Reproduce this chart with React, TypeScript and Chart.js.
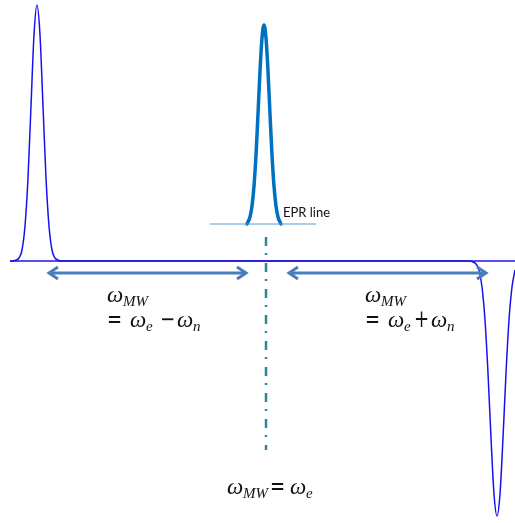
import React, { useEffect, useRef } from "react";
import { Chart, registerables } from "chart.js";

Chart.register(...registerables);

// Axis ranges (frequency axis and signal intensity, arbitrary units)
const X_MIN = 0;
const X_MAX = 515;
const Y_MIN = -262;
const Y_MAX = 261;

// ENDOR-type spectrum: positive line at ωe − ωn side, negative line at ωe + ωn side
const spectrumX = [10, 13, 16, 19, 22, 25, 28, 31, 34, 37, 40, 43, 46, 49, 52, 55, 58, 61,
  470, 473, 476, 479, 482, 485, 488, 491, 494, 497, 500, 503, 506, 509, 512, 515];
const spectrumY = [0, 0, 1, 3, 11, 35, 83, 155, 226, 256, 226, 155, 83, 35, 11, 3, 1, 0,
  0, -1, -3, -9, -26, -59, -112, -177, -233, -255, -233, -177, -112, -59, -26, -9];

// Zero line of the spectrum
const baselineX = [10, 515];
const baselineY = [0, 0];

// EPR line (offset trace)
const eprX = [247, 248, 250, 252, 254, 256, 258, 260, 262, 264, 266, 268, 270, 272, 274, 276, 278, 280, 281];
const eprY = [37, 39, 44, 55, 75, 106, 147, 190, 223, 236, 223, 190, 147, 106, 75, 55, 44, 39, 37];
const eprBaseX = [210, 316];
const eprBaseY = [37, 37];

// Centre marker at ωMW = ωe
const centerX = [266, 266];
const centerY = [24, -189];

// Double arrows: [x start, x end] at arrow level
const arrowLevel = -12;
const leftArrow = [48, 247];
const rightArrow = [288, 487];

const EPR_LABEL = "EPR line";

const toPts = (xs: number[], ys: number[]) => xs.map((x, i) => ({ x, y: ys[i] }));

type Tok = { t: string; x: number; kind: "w" | "sub" | "op" };

// Math labels: tokens with x positions (data units) and baseline y (data units)
const mathLabels: { y: number; toks: Tok[] }[] = [
  { y: -41, toks: [{ t: "ω", x: 107, kind: "w" }, { t: "MW", x: 123, kind: "sub" }] },
  {
    y: -66, toks: [
      { t: "=", x: 107, kind: "op" }, { t: "ω", x: 130, kind: "w" }, { t: "e", x: 146, kind: "sub" },
      { t: "−", x: 160, kind: "op" }, { t: "ω", x: 177, kind: "w" }, { t: "n", x: 193, kind: "sub" },
    ]
  },
  { y: -41, toks: [{ t: "ω", x: 365, kind: "w" }, { t: "MW", x: 381, kind: "sub" }] },
  {
    y: -66, toks: [
      { t: "=", x: 365, kind: "op" }, { t: "ω", x: 388, kind: "w" }, { t: "e", x: 404, kind: "sub" },
      { t: "+", x: 414, kind: "op" }, { t: "ω", x: 431, kind: "w" }, { t: "n", x: 447, kind: "sub" },
    ]
  },
  {
    y: -233, toks: [
      { t: "ω", x: 227, kind: "w" }, { t: "MW", x: 243, kind: "sub" }, { t: "=", x: 270, kind: "op" },
      { t: "ω", x: 290, kind: "w" }, { t: "e", x: 306, kind: "sub" },
    ]
  },
];

const annotPlugin = {
  id: "annot",
  afterDatasetsDraw(chart: any) {
    const ctx = chart.ctx as CanvasRenderingContext2D;
    const xs = chart.scales.x;
    const ys = chart.scales.y;
    const px = (v: number) => xs.getPixelForValue(v);
    const py = (v: number) => ys.getPixelForValue(v);
    ctx.save();

    // arrows
    ctx.strokeStyle = "#4A7EBB";
    ctx.lineWidth = 3;
    ctx.lineCap = "butt";
    ctx.lineJoin = "miter";
    const drawDouble = (a: number[]) => {
      const y = py(arrowLevel);
      const x1 = px(a[0]);
      const x2 = px(a[1]);
      ctx.beginPath();
      ctx.moveTo(x1 + 1, y);
      ctx.lineTo(x2 - 1, y);
      ctx.stroke();
      ctx.beginPath();
      ctx.moveTo(x1 + 10, y - 6);
      ctx.lineTo(x1 + 1, y);
      ctx.lineTo(x1 + 10, y + 6);
      ctx.stroke();
      ctx.beginPath();
      ctx.moveTo(x2 - 10, y - 6);
      ctx.lineTo(x2 - 1, y);
      ctx.lineTo(x2 - 10, y + 6);
      ctx.stroke();
    };
    drawDouble(leftArrow);
    drawDouble(rightArrow);

    // EPR label
    ctx.fillStyle = "#111";
    ctx.font = "13px Lato";
    ctx.textBaseline = "alphabetic";
    ctx.textAlign = "left";
    ctx.fillText(EPR_LABEL, px(283), py(44));

    // math labels
    for (const lab of mathLabels) {
      const by = py(lab.y);
      for (const tk of lab.toks) {
        if (tk.kind === "w") {
          ctx.font = "italic 23px 'Liberation Serif'";
          ctx.fillText(tk.t, px(tk.x), by);
        } else if (tk.kind === "sub") {
          ctx.font = "italic 15px 'Liberation Serif'";
          ctx.fillText(tk.t, px(tk.x), by + 4);
        } else {
          ctx.font = "24px 'DejaVu Serif'";
          ctx.save();
          ctx.translate(px(tk.x), by);
          ctx.scale(0.75, 1);
          ctx.fillText(tk.t, 0, 0);
          ctx.restore();
        }
      }
    }
    ctx.restore();
  },
};

export default function App() {
  const ref = useRef<HTMLCanvasElement | null>(null);
  useEffect(() => {
    if (!ref.current) return;
    const chart = new Chart(ref.current, {
      type: "line",
      data: {
        datasets: [
          {
            data: toPts(baselineX, baselineY),
            borderColor: "#1f14e0",
            borderWidth: 1.5,
            pointRadius: 0,
          },
          {
            data: toPts(spectrumX, spectrumY),
            borderColor: "#1a10ee",
            borderWidth: 1.5,
            pointRadius: 0,
            cubicInterpolationMode: "monotone",
          },
          {
            data: toPts(eprBaseX, eprBaseY),
            borderColor: "#5B9BD5",
            borderWidth: 1.2,
            pointRadius: 0,
          },
          {
            data: toPts(eprX, eprY),
            borderColor: "#0070C0",
            borderWidth: 3.5,
            borderCapStyle: "round",
            pointRadius: 0,
            cubicInterpolationMode: "monotone",
          },
          {
            data: toPts(centerX, centerY),
            borderColor: "#31849B",
            borderWidth: 2.5,
            borderDash: [9, 7, 2, 8],
            borderCapStyle: "butt",
            pointRadius: 0,
          },
        ] as any,
      },
      options: {
        animation: false,
        responsive: false,
        maintainAspectRatio: false,
        layout: { padding: 0 },
        plugins: { legend: { display: false }, tooltip: { enabled: false }, title: { display: false } },
        elements: { line: { fill: false } },
        scales: {
          x: { type: "linear", min: X_MIN, max: X_MAX, display: false },
          y: { type: "linear", min: Y_MIN, max: Y_MAX, display: false },
        },
        datasets: { line: { clip: false } } as any,
      },
      plugins: [annotPlugin],
    });
    return () => chart.destroy();
  }, []);
  return (
    <div style={{ position: "fixed", left: 0, top: 0, width: 515, height: 523, background: "#fff" }}>
      <canvas ref={ref} width={515} height={523} style={{ display: "block" }} />
    </div>
  );
}
